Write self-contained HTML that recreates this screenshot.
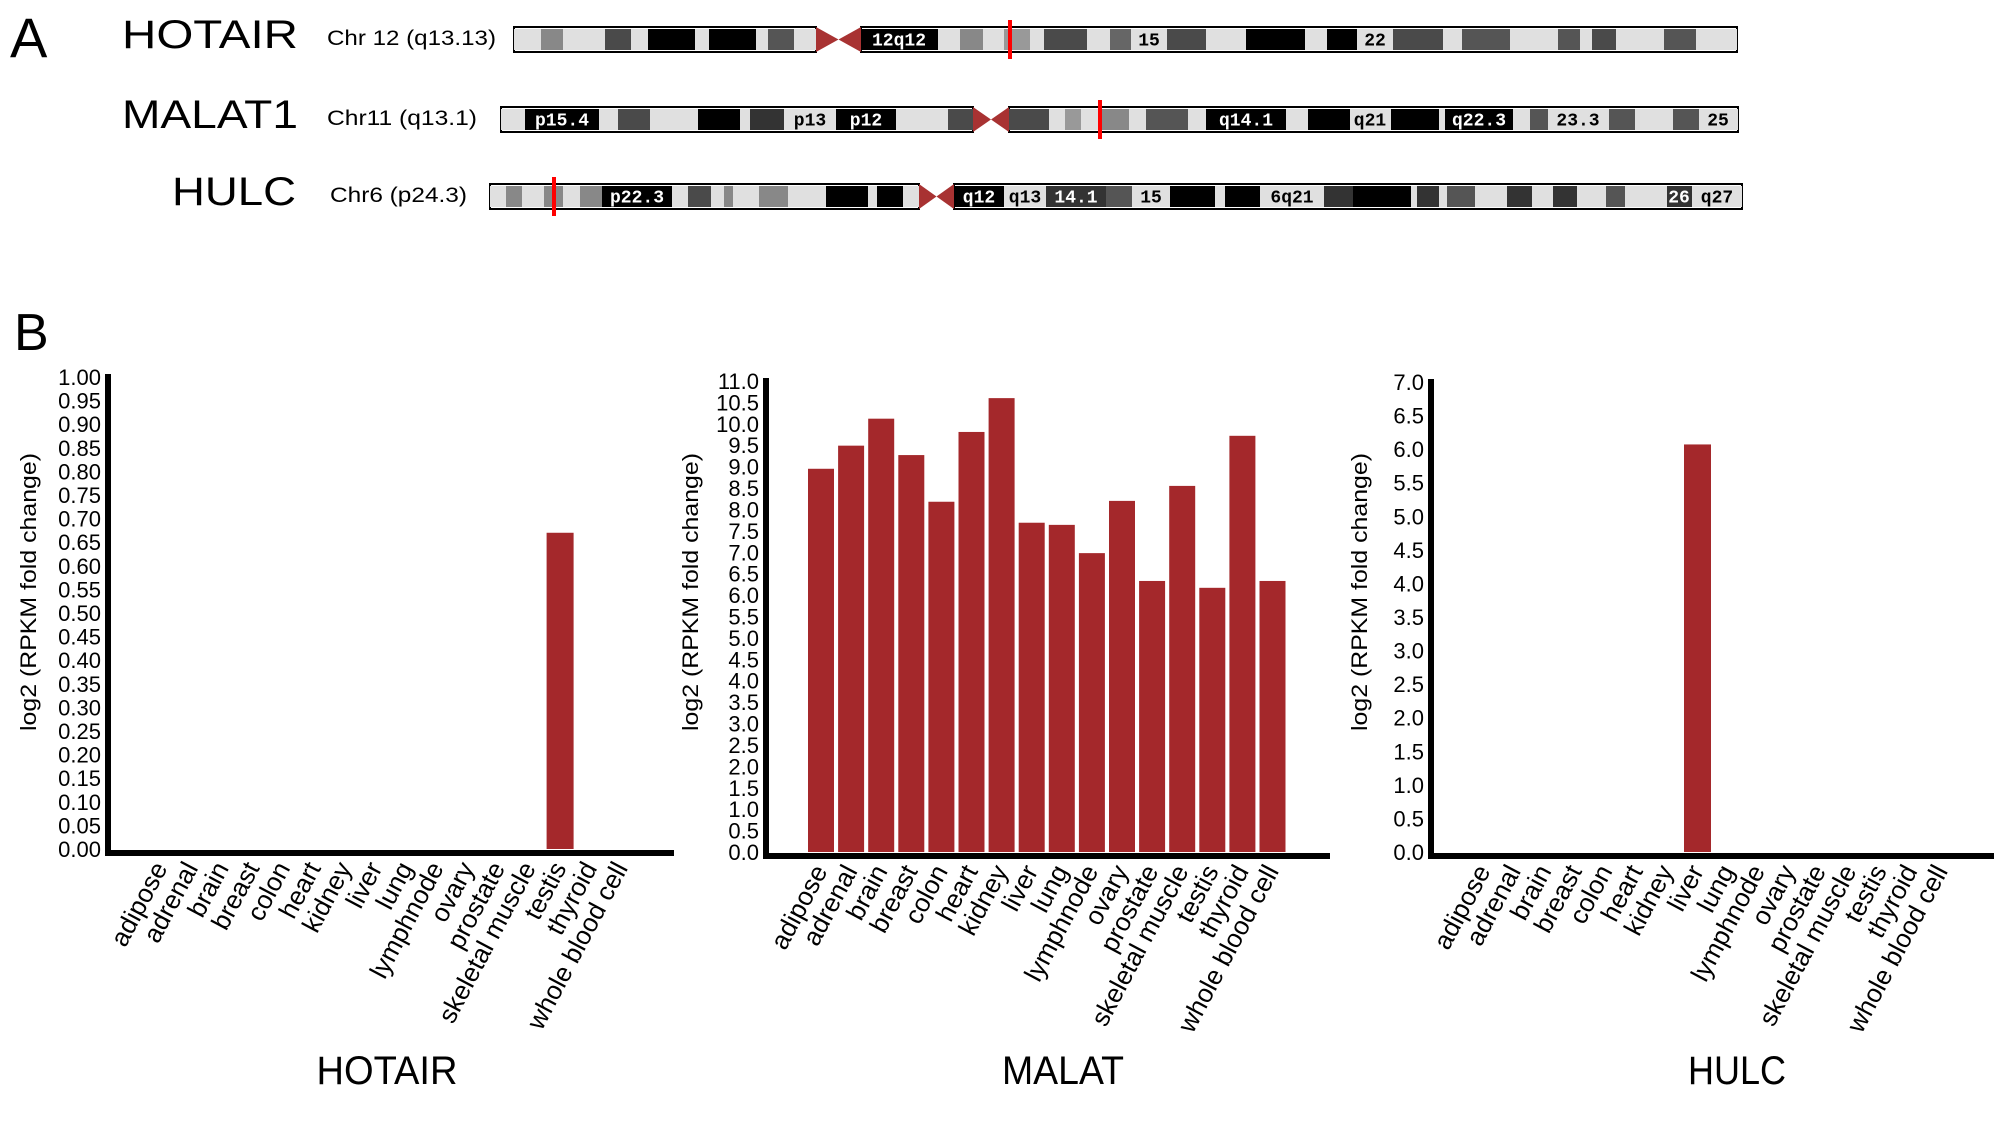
<!DOCTYPE html>
<html><head><meta charset="utf-8"><style>
html,body{margin:0;padding:0;background:#fff;}
svg{display:block;font-family:"Liberation Sans",Arial,sans-serif;}
</style></head><body>
<svg id="fig" width="2008" height="1122" viewBox="0 0 2008 1122" xmlns="http://www.w3.org/2000/svg">
<text x="10" y="57" font-size="56">A</text>
<text x="122" y="48" font-size="40" textLength="176" lengthAdjust="spacingAndGlyphs">HOTAIR</text>
<text x="122" y="128" font-size="40" textLength="176" lengthAdjust="spacingAndGlyphs">MALAT1</text>
<text x="172" y="205" font-size="40" textLength="124" lengthAdjust="spacingAndGlyphs">HULC</text>
<text x="327" y="45" font-size="21" textLength="169" lengthAdjust="spacingAndGlyphs">Chr 12  (q13.13)</text>
<text x="327" y="125" font-size="21" textLength="150" lengthAdjust="spacingAndGlyphs">Chr11  (q13.1)</text>
<text x="330" y="202" font-size="21" textLength="137" lengthAdjust="spacingAndGlyphs">Chr6  (p24.3)</text>
<g id="chroms"></g>
<text x="14" y="350" font-size="52">B</text>
<g id="charts"></g>
</svg>
<script>
const NS='http://www.w3.org/2000/svg';
function mk(tag,attrs,parent){const e=document.createElementNS(NS,tag);for(const k in attrs)e.setAttribute(k,attrs[k]);parent.appendChild(e);return e;}
const L='#e0e0e0',G='#888',D='#4a4a4a',B='#000',R='#a83232';
const hotairBands=[[514,541,L],[541,563,G],[563,605,L],[605,631,D],[631,648,L],[648,695,B],[695,709,L],[709,756,B],[756,768,L],[768,794,'#555'],[794,816,L],[861,938,B],[938,960,L],[960,983,G],[983,1004,L],[1004,1030,'#999'],[1030,1044,L],[1044,1087,D],[1087,1110,L],[1110,1131,'#666'],[1131,1167,L],[1167,1206,D],[1206,1246,L],[1246,1305,B],[1305,1327,L],[1327,1357,B],[1357,1393,L],[1393,1443,D],[1443,1462,L],[1462,1510,'#555'],[1510,1558,L],[1558,1580,'#555'],[1580,1592,L],[1592,1616,D],[1616,1664,L],[1664,1696,'#555'],[1696,1737,L]];
const malatBands=[[501,525,L],[525,599,B],[599,618,L],[618,650,D],[650,698,L],[698,740,B],[740,750,L],[750,784,'#333'],[784,836,L],[836,896,B],[896,948,L],[948,973,D],[1009,1049,D],[1049,1065,L],[1065,1081,'#999'],[1081,1100,L],[1100,1129,G],[1129,1146,L],[1146,1188,'#555'],[1188,1206,L],[1206,1286,B],[1286,1308,L],[1308,1350,B],[1350,1391,L],[1391,1439,B],[1439,1445,L],[1445,1513,B],[1513,1530,L],[1530,1548,'#555'],[1548,1609,L],[1609,1635,'#555'],[1635,1673,L],[1673,1699,'#555'],[1699,1738,L]];
const hulcBands=[[490,506,L],[506,522,G],[522,544,L],[544,563,G],[563,580,L],[580,602,G],[602,672,B],[672,688,L],[688,711,D],[711,724,L],[724,733,G],[733,759,L],[759,788,G],[788,826,L],[826,868,B],[868,877,L],[877,903,B],[903,919,L],[954,1004,B],[1004,1046,L],[1046,1106,'#333'],[1106,1132,'#555'],[1132,1170,L],[1170,1215,B],[1215,1225,L],[1225,1260,B],[1260,1324,L],[1324,1353,'#333'],[1353,1411,B],[1411,1417,L],[1417,1439,'#333'],[1439,1447,L],[1447,1475,'#555'],[1475,1507,L],[1507,1532,'#333'],[1532,1553,L],[1553,1577,'#333'],[1577,1606,L],[1606,1625,'#555'],[1625,1667,L],[1667,1692,'#333'],[1692,1742,L]];
const chromDefs=[
 {name:'hotair',y:27,x0:514,x1:1737,c0:816,c1:861,mark:1010,bands:hotairBands,labels:[['12q12',899,'#fff'],['15',1149,'#000'],['22',1375,'#000']]},
 {name:'malat1',y:107,x0:501,x1:1738,c0:973,c1:1009,mark:1100,bands:malatBands,labels:[['p15.4',562,'#fff'],['p13',810,'#000'],['p12',866,'#fff'],['q14.1',1246,'#fff'],['q21',1370,'#000'],['q22.3',1479,'#fff'],['23.3',1578,'#000'],['25',1718,'#000']]},
 {name:'hulc',y:184,x0:490,x1:1742,c0:919,c1:954,mark:554,bands:hulcBands,labels:[['p22.3',637,'#fff'],['q12',979,'#fff'],['q13',1025,'#000'],['14.1',1076,'#fff'],['15',1151,'#000'],['6q21',1292,'#000'],['26',1679,'#fff'],['q27',1717,'#000']]}
];
const cg=document.getElementById('chroms');
chromDefs.forEach(c=>{
 const g=mk('g',{},cg);
 
 
 const h=25;
 mk('rect',{x:c.x0,y:c.y,width:c.c0-c.x0,height:h,fill:'#fff',stroke:'#000','stroke-width':2},g);
 mk('rect',{x:c.c1,y:c.y,width:c.x1-c.c1,height:h,fill:'#fff',stroke:'#000','stroke-width':2},g);
 c.bands.forEach(b=>{const r=mk('rect',{x:b[0],y:c.y+2,width:b[1]-b[0],height:h-4,fill:b[2]},g);
  
  });
 const m=(c.c0+c.c1)/2;
 const cen=mk('path',{d:`M${c.c0},${c.y}L${m},${c.y+h/2}L${c.c0},${c.y+h}Z M${c.c1},${c.y}L${m},${c.y+h/2}L${c.c1},${c.y+h}Z`,fill:R},g);
 
 
 c.labels.forEach(l=>{const t=mk('text',{x:l[1],y:c.y+h/2+6,'text-anchor':'middle','font-size':18,'font-weight':'bold','font-family':'"Liberation Mono",monospace',fill:l[2]},g);t.textContent=l[0];
  
  });
 const mr=mk('rect',{x:c.mark-2,y:c.y-7,width:4,height:h+14,fill:'#f00'},g);
 
 
});

const categories=['adipose','adrenal','brain','breast','colon','heart','kidney','liver','lung','lymphnode','ovary','prostate','skeletal muscle','testis','thyroid','whole blood cell'];
const hotairValues=[0,0,0,0,0,0,0,0,0,0,0,0,0,0.67,0,0];
const malatValues=[8.95,9.49,10.12,9.27,8.18,9.81,10.6,7.69,7.64,6.98,8.2,6.33,8.55,6.17,9.72,6.33];
const hulcValues=[0,0,0,0,0,0,0,6.07,0,0,0,0,0,0,0,0];
const hotairTicks=['0.00','0.05','0.10','0.15','0.20','0.25','0.30','0.35','0.40','0.45','0.50','0.55','0.60','0.65','0.70','0.75','0.80','0.85','0.90','0.95','1.00'];
const malatTicks=['0.0','0.5','1.0','1.5','2.0','2.5','3.0','3.5','4.0','4.5','5.0','5.5','6.0','6.5','7.0','7.5','8.0','8.5','9.0','9.5','10.0','10.5','11.0'];
const hulcTicks=['0.0','0.5','1.0','1.5','2.0','2.5','3.0','3.5','4.0','4.5','5.0','5.5','6.0','6.5','7.0'];

const charts=[
 {name:'hotair',title:'HOTAIR',values:hotairValues,ticks:hotairTicks,max:1.0,ax:108,yZero:849,yTop:377,c0:161,pitch:30.7,bw:27,xEnd:674,titleX:387,titleW:141,ytX:28},
 {name:'malat',title:'MALAT',values:malatValues,ticks:malatTicks,max:11,ax:766,yZero:852,yTop:381,c0:821,pitch:30.1,bw:26,xEnd:1330,titleX:1063,titleW:122,ytX:690},
 {name:'hulc',title:'HULC',values:hulcValues,ticks:hulcTicks,max:7,ax:1431,yZero:852,yTop:382,c0:1484,pitch:30.5,bw:27,xEnd:1994,titleX:1737,titleW:98,ytX:1359}
];
const root=document.getElementById('charts');
charts.forEach(c=>{
 const g=mk('g',{},root);
 
 
 const yS=v=>c.yZero-(v/c.max)*(c.yZero-c.yTop);
 const xS=i=>c.c0+i*c.pitch;
 c.values.forEach((v,i)=>{
  if(v<=0)return;
  const r=mk('rect',{x:xS(i)-c.bw/2,y:yS(v),width:c.bw,height:c.yZero-yS(v),fill:'#a4282b'},g);
  
  
 });
 const ya=mk('rect',{x:c.ax-3,y:c.yTop-3,width:6,height:c.yZero-c.yTop+10,fill:'#000'},g);
 
 
 const xa=mk('rect',{x:c.ax,y:c.yZero+1,width:c.xEnd-c.ax,height:6,fill:'#000'},g);
 
 
 c.ticks.forEach(t=>{
  const tx=mk('text',{x:c.ax-7,y:yS(parseFloat(t))+8,'text-anchor':'end','font-size':22},g);
  tx.textContent=t;
  
  
 });
 categories.forEach((cat,i)=>{
  const x=xS(i)+7,y=c.yZero+19;
  const tx=mk('text',{x:x,y:y,'text-anchor':'end','font-size':26,transform:`rotate(-62 ${x} ${y})`},g);
  tx.textContent=cat;
  
  
 });
 const yt=mk('text',{x:c.ytX,y:592,'text-anchor':'middle','font-size':22,textLength:278,lengthAdjust:'spacingAndGlyphs',transform:`rotate(-90 ${c.ytX} 592)`,dy:'8'},g);
 yt.textContent='log2 (RPKM fold change)';
 
 
 const tt=mk('text',{x:c.titleX,y:1084,'text-anchor':'middle','font-size':40,textLength:c.titleW,lengthAdjust:'spacingAndGlyphs'},g);
 tt.textContent=c.title;
 
 
});
</script>
</body></html>
